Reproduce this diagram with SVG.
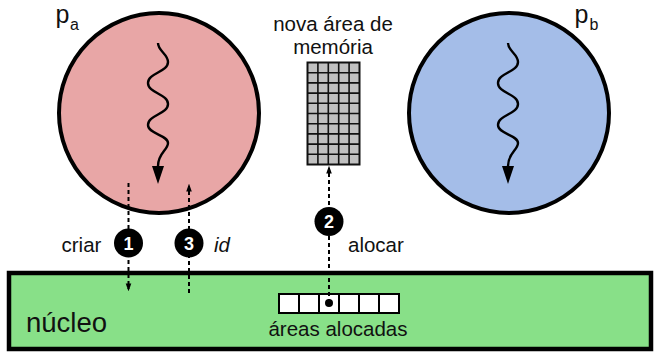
<svg xmlns="http://www.w3.org/2000/svg" width="655" height="352" viewBox="0 0 655 352">
<style>
.lbl{font-family:"Liberation Sans",Arial,sans-serif;font-size:20.5px;fill:#111}
.proc{stroke:#000;stroke-width:4}
.wave{fill:none;stroke:#000;stroke-width:2.4}
.dash{fill:none;stroke:#000;stroke-width:2;stroke-dasharray:4 3}
.badge circle{fill:#000}
.badge text{font-family:"Liberation Sans",Arial,sans-serif;font-size:18px;font-weight:bold;fill:#fff;text-anchor:middle}
.grid line{stroke:#111;stroke-width:1.6}
.cells rect{fill:#fff;stroke:#000;stroke-width:2}
</style>
<defs>
<marker id="ah" markerWidth="8" markerHeight="11" refX="7" refY="3.5" orient="auto" markerUnits="userSpaceOnUse" viewBox="0 0 10 7">
<path d="M0,0 L10,3.5 L0,7 Z" fill="#000"/>
</marker>
</defs>

<g id="nucleo">
<rect x="9" y="273" width="642" height="76" fill="#88e088" stroke="#000" stroke-width="4.5"/>
<text class="lbl" x="26" y="332" style="font-size:27.5px">núcleo</text>
</g>

<g id="process-a">
<circle class="proc" cx="159" cy="113" r="100" fill="#e8a6a6"/>
<path class="wave" d="M158,43 C158,51 168,54 168,62 C168,72 148,73 148,83 C148,93 168,94 168,104 C168,114 148,115 148,125 C148,134 168,135 168,143 C168,150 158,153 158,166"/>
<path d="M152,166 L164,166 L158,184 Z" fill="#000"/>
<text class="lbl" x="55.5" y="23" style="font-size:25px">p</text>
<text class="lbl" x="70" y="29.5" style="font-size:16px">a</text>
</g>

<g id="process-b">
<circle class="proc" cx="509" cy="113" r="100" fill="#a4bde8"/>
<path class="wave" d="M508,43 C508,51 518,54 518,62 C518,72 498,73 498,83 C498,93 518,94 518,104 C518,114 498,115 498,125 C498,134 518,135 518,143 C518,150 508,153 508,166"/>
<path d="M502,166 L514,166 L508,184 Z" fill="#000"/>
<text class="lbl" x="574.5" y="23" style="font-size:25px">p</text>
<text class="lbl" x="589.5" y="29.5" style="font-size:16px">b</text>
</g>

<g id="nova-area">
<text class="lbl" x="333" y="31" text-anchor="middle">nova área de</text>
<text class="lbl" x="333" y="54" text-anchor="middle">memória</text>
<rect x="307.5" y="62.5" width="52" height="102" fill="#c0c0c0" stroke="#111" stroke-width="2"/>
<g class="grid">
<line x1="317.9" y1="62.5" x2="317.9" y2="164.5"/>
<line x1="328.3" y1="62.5" x2="328.3" y2="164.5"/>
<line x1="338.7" y1="62.5" x2="338.7" y2="164.5"/>
<line x1="349.1" y1="62.5" x2="349.1" y2="164.5"/>
<line x1="307.5" y1="72.7" x2="359.5" y2="72.7"/>
<line x1="307.5" y1="82.9" x2="359.5" y2="82.9"/>
<line x1="307.5" y1="93.1" x2="359.5" y2="93.1"/>
<line x1="307.5" y1="103.3" x2="359.5" y2="103.3"/>
<line x1="307.5" y1="113.5" x2="359.5" y2="113.5"/>
<line x1="307.5" y1="123.7" x2="359.5" y2="123.7"/>
<line x1="307.5" y1="133.9" x2="359.5" y2="133.9"/>
<line x1="307.5" y1="144.1" x2="359.5" y2="144.1"/>
<line x1="307.5" y1="154.3" x2="359.5" y2="154.3"/>
</g>
</g>

<g id="areas-alocadas">
<g class="cells">
<rect x="279" y="294" width="20" height="19"/>
<rect x="299" y="294" width="20" height="19"/>
<rect x="319" y="294" width="20" height="19"/>
<rect x="339" y="294" width="20" height="19"/>
<rect x="359" y="294" width="20" height="19"/>
<rect x="379" y="294" width="20" height="19"/>
</g>
<text class="lbl" x="338" y="336" text-anchor="middle">áreas alocadas</text>
</g>

<g id="connectors">
<line class="dash" x1="128.5" y1="183" x2="128.5" y2="289" marker-end="url(#ah)"/>
<line class="dash" x1="189" y1="293" x2="189" y2="186" marker-end="url(#ah)"/>
<line class="dash" x1="329" y1="303" x2="329" y2="168" marker-end="url(#ah)"/>
<circle cx="329" cy="303" r="4" fill="#000"/>
</g>

<g id="step-1" class="badge">
<circle cx="128.5" cy="243" r="14.5"/>
<text x="128.5" y="249.5">1</text>
</g>
<text class="lbl" x="61.5" y="252">criar</text>

<g id="step-3" class="badge">
<circle cx="189" cy="243" r="14.5"/>
<text x="189" y="249.5">3</text>
</g>
<text class="lbl" x="214" y="252" font-style="italic">id</text>

<g id="step-2" class="badge">
<circle cx="329" cy="221.5" r="14.5"/>
<text x="329" y="228">2</text>
</g>
<text class="lbl" x="348" y="251.5">alocar</text>
</svg>
